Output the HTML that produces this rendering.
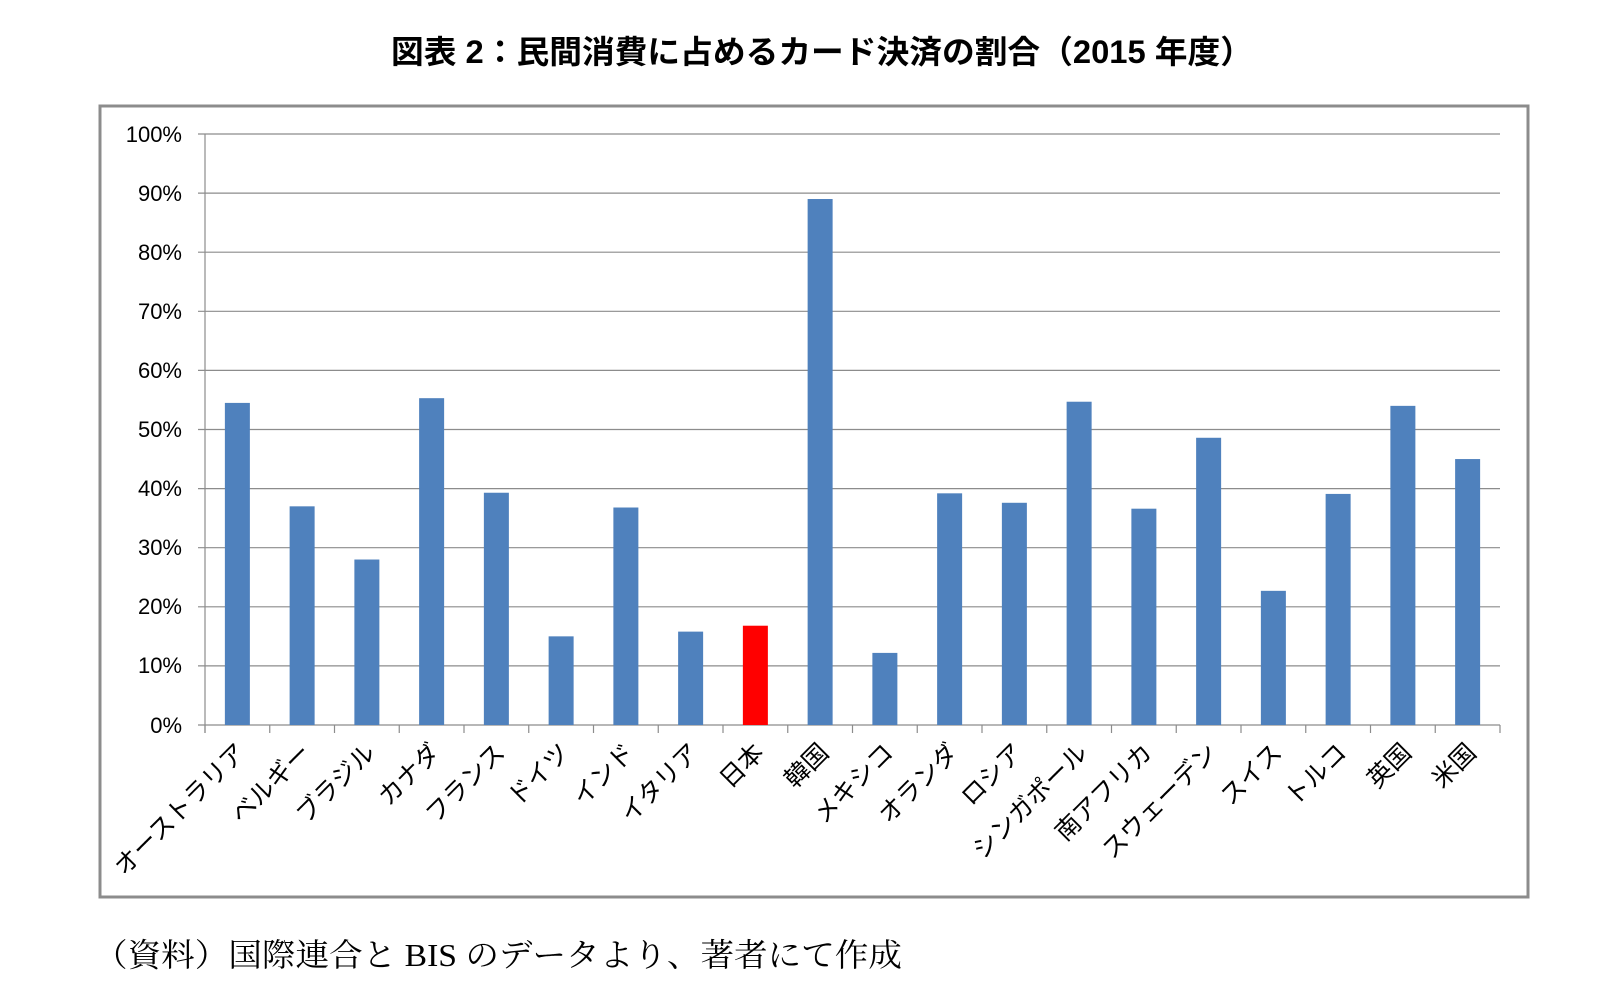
<!DOCTYPE html>
<html><head><meta charset="utf-8"><style>
html,body{margin:0;padding:0;background:#fff;}
svg{display:block;}
</style></head><body>
<svg width="1624" height="994" viewBox="0 0 1624 994" xmlns="http://www.w3.org/2000/svg">
<text x="822" y="63" text-anchor="middle" font-family="'Liberation Sans','Noto Sans CJK JP',sans-serif" font-weight="bold" font-size="32" fill="#000" textLength="862" lengthAdjust="spacingAndGlyphs">図表 2：民間消費に占めるカード決済の割合（2015 年度）</text>
<rect x="100" y="106" width="1428" height="791" fill="#fff" stroke="#8c8c8c" stroke-width="3"/>
<g stroke="#8c8c8c" stroke-width="1.2">
<line x1="198" y1="134" x2="1500" y2="134"/>
<line x1="198" y1="193.1" x2="1500" y2="193.1"/>
<line x1="198" y1="252.2" x2="1500" y2="252.2"/>
<line x1="198" y1="311.3" x2="1500" y2="311.3"/>
<line x1="198" y1="370.4" x2="1500" y2="370.4"/>
<line x1="198" y1="429.5" x2="1500" y2="429.5"/>
<line x1="198" y1="488.6" x2="1500" y2="488.6"/>
<line x1="198" y1="547.7" x2="1500" y2="547.7"/>
<line x1="198" y1="606.8" x2="1500" y2="606.8"/>
<line x1="198" y1="665.9" x2="1500" y2="665.9"/>
<line x1="198" y1="725" x2="1500" y2="725"/>
<line x1="205" y1="134" x2="205" y2="733"/>
</g>
<g font-family="'Liberation Sans',sans-serif" font-size="22" fill="#000" text-anchor="end">
<text x="182" y="142">100%</text><text x="182" y="201">90%</text><text x="182" y="260">80%</text><text x="182" y="319">70%</text><text x="182" y="378">60%</text><text x="182" y="437">50%</text><text x="182" y="496">40%</text><text x="182" y="555">30%</text><text x="182" y="614">20%</text><text x="182" y="673">10%</text><text x="182" y="733">0%</text>
</g>
<g id="bars"></g>
<g id="ticks" stroke="#8c8c8c" stroke-width="1.2"></g>
<g id="labels" font-family="'Liberation Sans','Noto Sans CJK JP',sans-serif" font-size="25" fill="#000"></g>
<text x="94" y="966" font-family="'Liberation Serif','Noto Serif CJK SC',serif" font-size="32" fill="#000" textLength="808" lengthAdjust="spacingAndGlyphs">（資料）国際連合と BIS のデータより、著者にて作成</text>
<script>
var v=[54.5,37,28,55.3,39.3,15,36.8,15.8,16.8,89,12.2,39.2,37.6,54.7,36.6,48.6,22.7,39.1,54,45];
var n=["オーストラリア","ベルギー","ブラジル","カナダ","フランス","ドイツ","インド","イタリア","日本","韓国","メキシコ","オランダ","ロシア","シンガポール","南アフリカ","スウェーデン","スイス","トルコ","英国","米国"];
var ns="http://www.w3.org/2000/svg";var w=(1500-205)/20;
var b=document.getElementById("bars"),t=document.getElementById("ticks"),l=document.getElementById("labels");
for(var i=0;i<20;i++){var c=205+w*(i+0.5);var h=v[i]*5.91;
var r=document.createElementNS(ns,"rect");r.setAttribute("x",c-12.5);r.setAttribute("y",725-h);r.setAttribute("width",25);r.setAttribute("height",h);r.setAttribute("fill",i==8?"#ff0000":"#4f81bd");b.appendChild(r);
var tx=document.createElementNS(ns,"text");tx.setAttribute("text-anchor","end");tx.setAttribute("transform","translate("+(c+10)+",754) rotate(-45)");tx.textContent=n[i];l.appendChild(tx);}
for(var i=0;i<=20;i++){var x=205+w*i;var ln=document.createElementNS(ns,"line");ln.setAttribute("x1",x);ln.setAttribute("x2",x);ln.setAttribute("y1",725);ln.setAttribute("y2",733);t.appendChild(ln);}
</script>
</svg>
</body></html>
